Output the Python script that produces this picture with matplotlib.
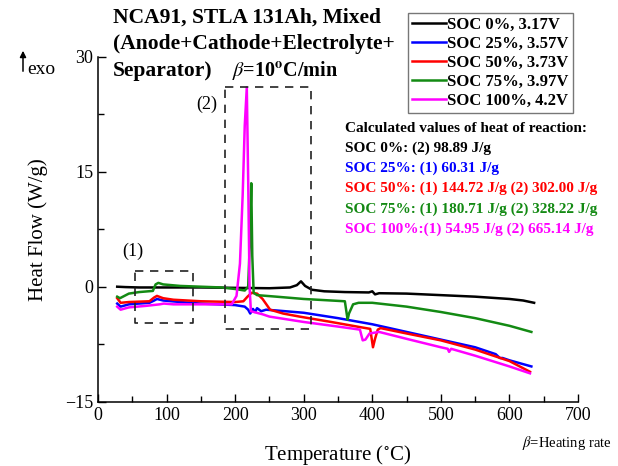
import matplotlib
matplotlib.use("Agg")
import matplotlib.pyplot as plt
from matplotlib.ticker import MultipleLocator

plt.rcParams['font.family'] = ['Liberation Serif', 'DejaVu Serif']
plt.rcParams['mathtext.fontset'] = 'stix'

# DSC traces, temperature (C) vs heat flow (W/g)
t_soc0 = [28, 40, 60, 100, 150, 200, 250, 280, 290, 296, 302, 312, 330, 360, 395, 400, 404, 410, 450, 500, 550, 600, 620, 636]
q_soc0 = [0.0, -0.05, -0.1, -0.1, -0.1, -0.15, -0.2, -0.1, 0.2, 0.7, 0.1, -0.4, -0.6, -0.7, -0.75, -0.6, -1.0, -0.85, -0.9, -1.1, -1.3, -1.6, -1.8, -2.1]

t_soc25 = [28, 33, 45, 75, 82, 86, 95, 120, 150, 200, 214, 219, 222, 226, 229, 232, 235, 238, 245, 260, 300, 350, 400, 450, 500, 550, 580, 586, 590, 600, 632]
q_soc25 = [-2.2, -2.6, -2.3, -2.1, -1.8, -1.6, -1.8, -2.0, -2.2, -2.4, -2.6, -3.0, -3.5, -2.9, -3.3, -2.8, -3.0, -3.2, -3.0, -3.1, -3.4, -4.1, -4.9, -5.9, -6.9, -7.9, -8.8, -9.3, -9.3, -9.6, -10.4]

t_soc50 = [28, 33, 45, 75, 82, 86, 95, 110, 150, 200, 212, 218, 224, 232, 240, 251, 270, 294, 340, 384, 397, 401, 404, 408, 412, 450, 500, 550, 600, 630]
q_soc50 = [-1.5, -2.1, -2.0, -1.9, -1.4, -1.2, -1.5, -1.7, -1.9, -2.0, -1.9, -1.3, -0.8, -0.9, -1.6, -3.0, -3.5, -3.9, -4.6, -5.3, -5.5, -7.9, -6.8, -5.6, -5.4, -6.1, -7.0, -8.2, -9.7, -11.1]

t_soc75 = [28, 32, 45, 60, 80, 84, 88, 95, 120, 150, 180, 200, 214, 219, 221.5, 223.5, 225, 227, 232, 260, 300, 340, 360, 364, 366, 372, 380, 400, 450, 500, 550, 600, 632]
q_soc75 = [-1.3, -1.5, -0.9, -0.7, -0.55, 0.3, 0.5, 0.3, 0.1, 0.0, -0.1, -0.3, -0.5, 0.0, 6.0, 13.5, 4.0, -0.8, -1.1, -1.3, -1.6, -1.8, -1.9, -4.3, -3.5, -2.3, -2.1, -2.1, -2.6, -3.3, -4.1, -5.1, -5.9]

t_soc100 = [28, 33, 45, 70, 90, 96, 110, 150, 195, 202, 207, 211, 214, 217, 219, 221, 223, 240, 250, 300, 350, 382, 386, 390, 396, 410, 450, 500, 510, 512, 515, 550, 600, 630]
q_soc100 = [-2.6, -3.0, -2.7, -2.5, -2.3, -2.2, -2.3, -2.3, -2.3, -1.2, 3, 12, 21, 26, 14, 0, -3.2, -3.6, -3.9, -4.6, -5.2, -5.6, -7.0, -6.9, -6.1, -5.9, -6.8, -7.9, -8.1, -8.5, -8.1, -9.0, -10.4, -11.3]

series = [
    (t_soc0, q_soc0, 'black', 'SOC 0%, 3.17V'),
    (t_soc25, q_soc25, 'blue', 'SOC 25%, 3.57V'),
    (t_soc50, q_soc50, 'red', 'SOC 50%, 3.73V'),
    (t_soc75, q_soc75, '#138a13', 'SOC 75%, 3.97V'),
    (t_soc100, q_soc100, 'magenta', 'SOC 100%, 4.2V'),
]

heat_lines = [
    ('Calculated values of heat of reaction:', 'black'),
    ('SOC 0%: (2) 98.89 J/g', 'black'),
    ('SOC 25%: (1) 60.31 J/g', 'blue'),
    ('SOC 50%: (1) 144.72 J/g (2) 302.00 J/g', 'red'),
    ('SOC 75%: (1) 180.71 J/g (2) 328.22 J/g', '#138a13'),
    ('SOC 100%:(1) 54.95 J/g (2) 665.14 J/g', 'magenta'),
]

W, H = 618, 466
fig = plt.figure(figsize=(W / 100, H / 100), dpi=100)
ax = fig.add_axes([98 / W, 1 - 401.7 / H, 480 / W, 345 / H])

for t, q, c, lab in series:
    ax.plot(t, q, color=c, lw=1.8, label=lab)

# dashed regions (1) and (2)
ax.plot([54, 139, 139, 54, 54], [2.0, 2.0, -4.7, -4.7, 2.0], ls=(0, (5, 4)), color='#222222', lw=1.2)
ax.plot([184.5, 311, 311, 184.5, 184.5], [26.1, 26.1, -5.5, -5.5, 26.1], ls=(0, (5, 4)), color='#222222', lw=1.2)
ax.text(51, 4.6, '(1)', fontsize=13, ha='center', va='center')
ax.text(159, 23.8, '(2)', fontsize=13, ha='center', va='center')

ax.set_xlim(0, 700)
ax.set_ylim(-15, 30)
ax.xaxis.set_major_locator(MultipleLocator(100))
ax.xaxis.set_minor_locator(MultipleLocator(50))
ax.yaxis.set_major_locator(MultipleLocator(15))
ax.yaxis.set_minor_locator(MultipleLocator(7.5))
ax.tick_params(which='both', direction='in', labelsize=13, width=1)
ax.tick_params(which='major', length=6)
ax.tick_params(which='minor', length=4)
for s in ['top', 'right']:
    ax.spines[s].set_visible(False)
for s in ['left', 'bottom']:
    ax.spines[s].set_linewidth(1.1)

ax.set_xlabel('Temperature ($^{\\circ}$C)', fontsize=15, labelpad=14)
ax.set_ylabel('Heat Flow (W/g)', fontsize=15, labelpad=12)

leg = ax.legend(loc='upper left', bbox_to_anchor=(408 / W, 1 - 13 / H), bbox_transform=fig.transFigure,
                prop={'weight': 'bold', 'size': 12}, frameon=True, fancybox=False,
                handlelength=2.0, handletextpad=0.1, labelspacing=0.17, borderpad=0.25, borderaxespad=0)
leg.get_frame().set_edgecolor('#555555')
leg.get_frame().set_linewidth(1.0)

def fx(px):
    return px / W

def fy(py):
    return 1 - py / H

for i, line in enumerate(['NCA91, STLA 131Ah, Mixed', '(Anode+Cathode+Electrolyte+', 'Separator)']):
    fig.text(fx(113), fy(18 + 26.5 * i), line, fontsize=15.5, fontweight='bold', va='center', ha='left')
fig.text(fx(232), fy(71), '$\\beta$=10$^{\\mathbf{o}}$C/min', fontsize=14.5, fontweight='bold', va='center')

for i, (line, c) in enumerate(heat_lines):
    fig.text(fx(345), fy(128 + 20.2 * i), line, fontsize=11, fontweight='bold', color=c, va='center')

fig.text(fx(522), fy(443), '$\\beta$=Heating rate', fontsize=10.5, va='center')

# exo direction marker
fig.add_artist(matplotlib.patches.FancyArrowPatch((fx(23), fy(74)), (fx(23), fy(48)), transform=fig.transFigure,
                                                  arrowstyle='-|>', mutation_scale=9, lw=1.1, color='black'))
fig.text(fx(27), fy(70), 'exo', fontsize=14, va='center')

fig.savefig('out.png', dpi=100)
